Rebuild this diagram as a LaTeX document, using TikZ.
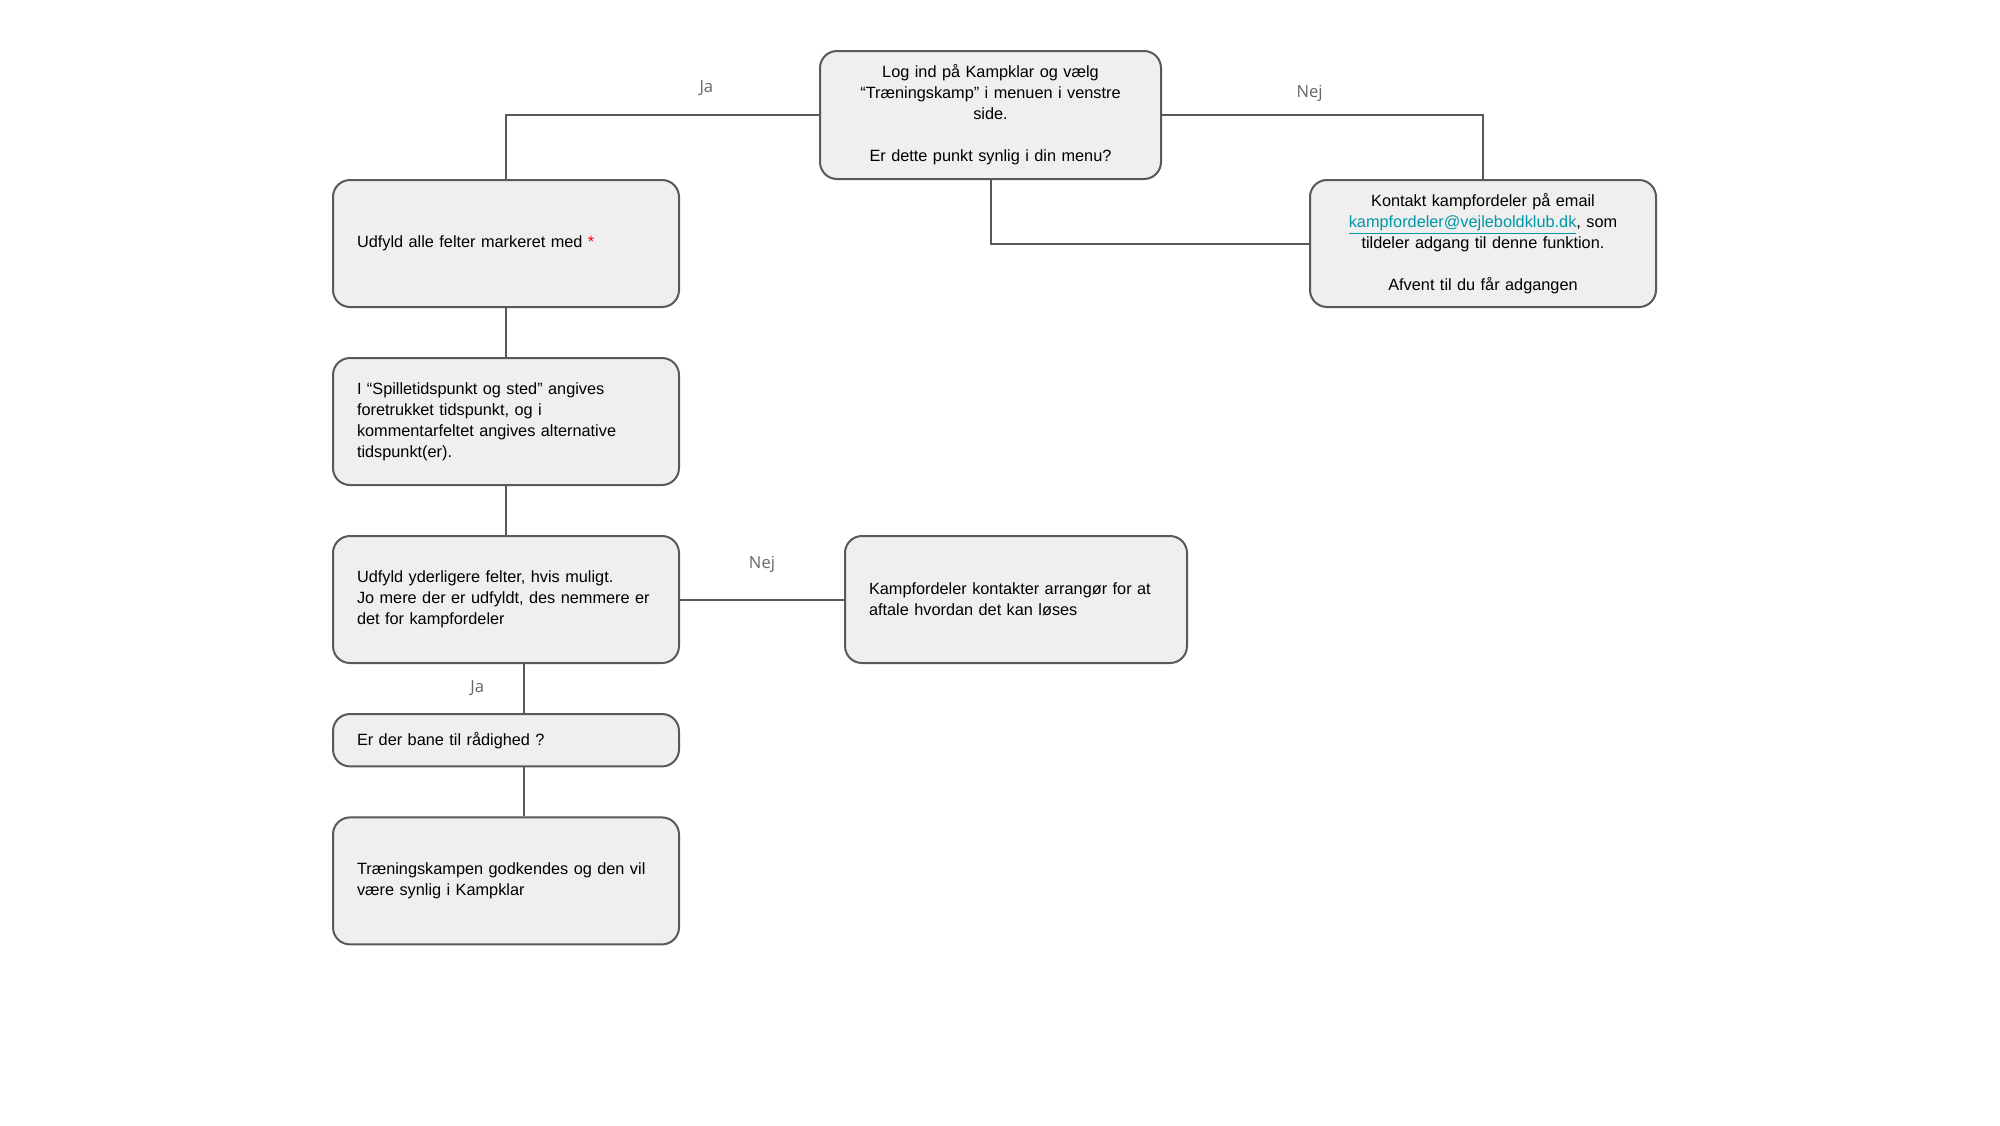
\documentclass[tikz,border=0pt]{standalone}
\usepackage{fontspec}
\setmainfont{Liberation Sans}
\newfontfamily\labelfont{Open Sans}
\usetikzlibrary{positioning}
\definecolor{boxfill}{HTML}{EFEFEF}
\definecolor{boxline}{HTML}{595959}
\definecolor{linkcol}{HTML}{0097A7}
\definecolor{lblgray}{HTML}{666666}

\begin{document}
\begin{tikzpicture}[
  x=0.5pt, y=-0.5pt,
  font=\fontsize{8.15pt}{10.5pt}\selectfont,
  box/.style={draw=boxline, line width=1pt, fill=boxfill, rounded corners=8.5pt,
              inner xsep=12pt, inner ysep=3pt, text width=149pt,
              minimum height=63.5pt, align=left},
  midbox/.style={box, align=center},
  link/.style={draw=boxline, line width=1pt},
  lbl/.style={font=\labelfont\fontsize{8.3pt}{10pt}\selectfont, text=lblgray, inner sep=0pt},
]
\fill[white] (0,0) rectangle (2000,1125);
\node[midbox, text width=146.5pt, minimum height=64pt] (login) at (990.5,115)
  {Log ind på Kampklar og vælg\\“Træningskamp” i menuen i venstre\\side.\\[10.5pt]Er dette punkt synlig i din menu?};
\node[midbox] (contact) at (1483,243.5)
  {Kontakt kampfordeler på email\\\textcolor{linkcol}{\underline{kampfordeler@vejleboldklub.dk}}, som\\tildeler adgang til denne funktion.\\[10.5pt]Afvent til du får adgangen};
\node[box] (fields) at (506,243.5) {Udfyld alle felter markeret med \textcolor{red}{*}};
\node[box, below=24.5pt of fields] (times)
  {I “Spilletidspunkt og sted” angives\\foretrukket tidspunkt, og i\\kommentarfeltet angives alternative\\tidspunkt(er).};
\node[box, below=24.5pt of times] (extra)
  {Udfyld yderligere felter, hvis muligt.\\Jo mere der er udfyldt, des nemmere er\\det for kampfordeler};
\node[box, text width=147pt, right=82pt of extra] (arrange)
  {Kampfordeler kontakter arrangør for at\\aftale hvordan det kan løses};
\node[box, minimum height=26.2pt, below=24.5pt of extra] (pitch) {Er der bane til rådighed ?};
\node[box, below=24.5pt of pitch] (approved)
  {Træningskampen godkendes og den vil\\være synlig i Kampklar};

\draw[link] (login.west) -| node[lbl, pos=0.18, above=9pt] {Ja} (fields.north);
\draw[link] (login.east) -| node[lbl, pos=0.23, above=6.5pt] {Nej} (contact.north);
\draw[link] (login.south) |- (contact.west);
\draw[link] (fields) -- (times);
\draw[link] (times) -- (extra);
\draw[link] (extra) -- node[lbl, above=13pt] {Nej} (arrange);
\draw[link] ([xshift=9pt]extra.south) -- node[lbl, left=19.5pt] {Ja} ([xshift=9pt]pitch.north);
\draw[link] ([xshift=9pt]pitch.south) -- ([xshift=9pt]approved.north);
\end{tikzpicture}
\end{document}
